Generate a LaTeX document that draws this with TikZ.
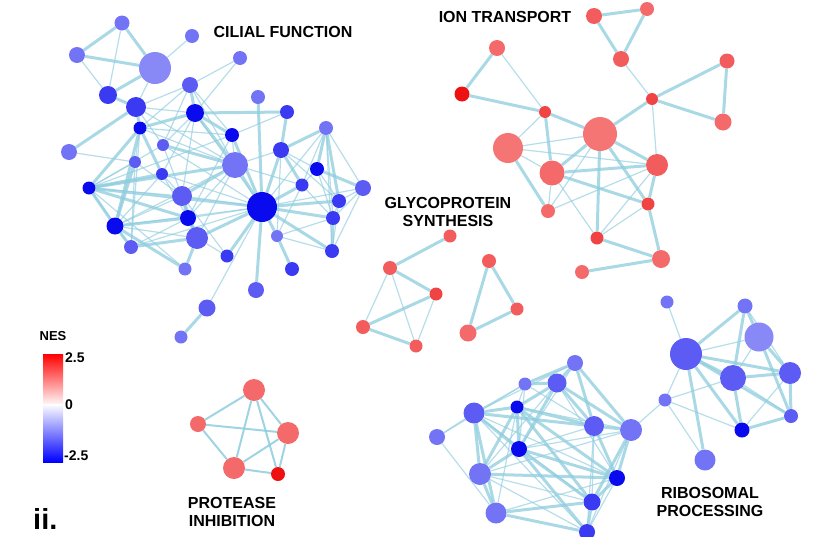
\documentclass[tikz,border=0pt]{standalone}
\usepackage{fontspec}
\setmainfont{Liberation Sans}
\usetikzlibrary{backgrounds}
\definecolor{blueA}{HTML}{0A0AEE}
\definecolor{blueB}{HTML}{3A3AF2}
\definecolor{blueC}{HTML}{5C5CF4}
\definecolor{blueD}{HTML}{7373F5}
\definecolor{blueE}{HTML}{8888F6}
\definecolor{redA}{HTML}{EE1111}
\definecolor{redB}{HTML}{F04444}
\definecolor{redC}{HTML}{F25C5C}
\definecolor{redD}{HTML}{F46A6A}
\definecolor{redE}{HTML}{F57575}
\definecolor{cEdge}{HTML}{8ECCDE}
\tikzset{
  nd/.style={circle, fill=#1, inner sep=0pt},
  lk/.style={draw=cEdge, line width=3pt, opacity=0.75},
  lkthin/.style={draw=cEdge, line width=1.2pt, opacity=0.65},
  lkmid/.style={draw=cEdge, line width=2pt, opacity=0.85},
  lbl/.style={font=\bfseries\fontsize{16}{18.5}\selectfont, align=center, inner sep=0pt},
  legtxt/.style={font=\bfseries\fontsize{14}{16}\selectfont, inner sep=0pt},
}

\begin{document}
\begin{tikzpicture}[x=1pt, y=-1pt]
  \useasboundingbox (0,0) rectangle (830,536);

  % Cilial function cluster
  \foreach \n/\x/\y/\dm/\col in {
      c1/122/23/15/blueD, c2/192/36/14/blueD, c3/77/55/16/blueD,
      c4/155/68/32/blueE, c5/240/58/14/blueD, c6/108/95/18/blueB,
      c7/190/85/16/blueC, c8/136/107/20/blueB, c9/258/97/14/blueD,
      c10/195/113/18/blueA, c11/287/112/14/blueB, c12/140/128/13/blueA,
      c13/232/135/14/blueA, c14/326/128/14/blueD, c15/69/152/16/blueD,
      c16/163/145/12/blueC, c17/281/150/16/blueB, c18/235/165/26/blueD,
      c19/135/162/12/blueC, c20/317/169/14/blueA, c21/162/174/12/blueB,
      c22/302/185/13/blueB, c23/363/188/16/blueC, c24/89/188/13/blueA,
      c25/182/196/20/blueC, c26/339/201/14/blueB, c27/262/207/30/blueA,
      c28/188/218/16/blueA, c29/115/226/17/blueA, c30/333/218/14/blueB,
      c31/277/236/12/blueD, c32/197/238/22/blueC, c33/131/247/14/blueC,
      c34/227/256/13/blueB, c35/332/251/14/blueB, c36/185/269/13/blueD,
      c37/292/269/14/blueB, c38/256/290/16/blueC, c39/207/308/17/blueC,
      c40/181/337/13/blueD}
    \node[nd=\col, minimum size=\dm pt] (\n) at (\x,\y) {};

  % Ion transport cluster
  \foreach \n/\x/\y/\dm/\col in {
      i1/594/16/16/redC, i2/647/9/14/redD, i3/621/59/16/redC,
      i4/497/48/16/redD, i5/462/94/15/redA, i6/545/112/12/redB,
      i7/652/99/12/redB, i8/600/134/34/redE, i9/508/148/30/redE,
      i10/727/61/15/redC, i11/723/122/17/redD, i12/552/173/25/redD,
      i13/657/165/22/redC, i14/548/211/14/redD, i15/648/204/13/redB,
      i16/597/238/13/redB, i17/661/259/18/redD, i18/582/272/14/redD}
    \node[nd=\col, minimum size=\dm pt] (\n) at (\x,\y) {};

  % Glycoprotein synthesis cluster
  \foreach \n/\x/\y/\dm/\col in {
      g1/450/236/13/redC, g2/390/268/14/redC, g3/436/294/13/redB,
      g4/363/327/14/redC, g5/416/346/13/redC, g6/489/261/14/redC,
      g7/517/309/13/redC, g8/468/333/17/redD}
    \node[nd=\col, minimum size=\dm pt] (\n) at (\x,\y) {};

  % Protease inhibition cluster
  \foreach \n/\x/\y/\dm/\col in {
      p1/254/390/22/redD, p2/198/424/16/redD, p3/288/433/22/redD,
      p4/234/468/22/redD, p5/278/474/14/redA}
    \node[nd=\col, minimum size=\dm pt] (\n) at (\x,\y) {};

  % Ribosomal processing clusters
  \foreach \n/\x/\y/\dm/\col in {
      r1/575/363/16/blueD, r2/525/384/13/blueD, r3/557/383/19/blueC,
      r4/474/413/21/blueC, r5/517/407/13/blueA, r6/437/437/16/blueD,
      r7/594/426/20/blueC, r8/631/430/22/blueD, r9/519/449/16/blueA,
      r10/480/474/22/blueD, r11/617/478/16/blueA, r12/496/513/21/blueD,
      r13/592/502/17/blueB, r14/587/532/16/blueB,
      s1/667/302/13/blueD, s2/745/306/15/blueD, s3/759/337/29/blueE,
      s4/686/354/32/blueC, s5/733/378/26/blueC, s6/790/373/22/blueC,
      s7/665/400/13/blueD, s8/791/416/14/blueC, s9/742/430/15/blueA,
      s10/705/460/21/blueD}
    \node[nd=\col, minimum size=\dm pt] (\n) at (\x,\y) {};

  % Links
  \begin{scope}[on background layer]
    \foreach \a/\b in {c1/c3, c1/c4, c3/c4, c4/c6, c6/c8, c8/c15, c8/c12,
        c10/c11, c12/c10, c12/c24, c12/c29, c10/c18, c10/c13, c13/c27,
        c18/c27, c17/c27, c14/c17, c14/c20, c14/c26, c20/c23, c22/c27,
        c26/c27, c24/c29, c24/c18, c24/c27, c25/c28, c27/c38, c27/c31,
        c27/c32, c29/c33, c28/c32, c31/c37, c39/c40, c9/c27, c7/c10,
        c18/c25, c21/c24, c19/c29, c16/c18, c28/c29, c27/c30, c17/c22,
        c11/c17, c12/c21, c24/c28, c25/c32, c32/c33, c29/c36, c32/c36,
        c27/c35, c30/c35, c27/c34,
        i1/i2, i2/i3, i1/i3, i7/i10, i10/i11, i7/i11, i7/i8, i4/i5, i5/i6,
        i6/i8, i6/i12, i9/i14, i8/i12, i8/i13, i8/i16, i8/i15, i12/i13,
        i12/i15, i13/i15, i15/i17, i16/i17, i17/i18,
        g1/g2, g2/g3, g3/g4, g4/g5, g6/g7, g6/g8, g7/g8,
        s2/s4, s2/s5, s2/s3, s3/s6, s3/s8, s4/s5, s4/s6, s4/s8, s4/s9,
        s4/s10, s5/s6, s5/s9, s6/s8, s8/s9,
        r1/r3, r1/r7, r1/r8, r3/r8, r3/r7, r3/r9, r4/r5, r4/r9, r4/r7,
        r5/r7, r5/r11, r5/r9, r7/r8, r7/r11, r8/r11, r8/r13, r9/r10,
        r9/r13, r10/r12, r10/r11, r12/r13, r12/r14, r13/r14, r11/r13,
        r5/r10, r4/r10, r9/r14, r3/r5, r2/r3, r1/r2, r4/r12, r5/r13,
        r9/r11}
      \draw[lk] (\a) -- (\b);
    \foreach \a/\b in {c1/c6, c3/c6, c2/c4, c4/c8, c5/c7, c5/c10, c7/c8,
        c7/c12, c7/c13, c7/c16, c7/c18, c8/c10, c8/c16, c8/c18, c11/c13,
        c12/c19, c12/c33, c12/c18, c12/c13, c15/c19, c10/c16, c10/c21,
        c10/c27, c10/c25, c13/c18, c13/c28, c13/c24, c14/c22, c14/c30,
        c14/c23, c14/c27, c14/c35, c16/c24, c16/c25, c16/c27, c17/c18,
        c17/c20, c17/c26, c17/c31, c18/c28, c18/c32, c18/c22, c18/c29,
        c19/c24, c19/c25, c19/c33, c20/c22, c20/c26, c20/c30, c21/c25,
        c21/c28, c21/c29, c21/c27, c22/c30, c22/c31, c23/c26, c23/c30,
        c23/c27, c23/c35, c24/c33, c24/c25, c24/c36, c25/c29, c25/c27,
        c26/c30, c26/c35, c27/c28, c27/c29, c27/c33, c27/c39, c28/c33,
        c29/c32, c30/c31, c31/c35, c32/c34, c34/c25,
        i3/i7, i4/i6, i6/i9, i9/i8, i9/i13, i8/i14, i12/i14, i12/i16,
        i13/i16, i13/i14, i15/i16, i7/i13, i9/i12,
        g2/g4, g2/g5, g3/g5,
        s1/s4, s3/s4, s3/s5, s4/s7, s5/s7, s5/s8, s6/s9, s7/s9, s7/s10,
        s7/r8, s2/s6,
        r2/r4, r2/r5, r4/r6, r6/r12, r6/r2, r3/r11, r4/r11, r4/r13, r5/r8,
        r5/r12, r7/r9, r7/r13, r7/r14, r8/r9, r8/r14, r10/r13, r10/r14,
        r10/r8, r11/r12, r11/r14, r4/r14, r2/r9, r3/r10, r1/r9, r1/r4,
        r2/r7}
      \draw[lkthin] (\a) -- (\b);
    \foreach \a/\b in {p1/p2, p1/p4, p1/p3, p1/p5, p2/p3, p2/p4, p3/p4,
        p3/p5, p4/p5}
      \draw[lkmid] (\a) -- (\b);
  \end{scope}

  % Cluster labels
  \node[lbl] (lblCilial) at (283,32) {CILIAL FUNCTION};
  \node[lbl] (lblIon) at (505,17) {ION TRANSPORT};
  \node[lbl] (lblGlyco) at (448,212) {GLYCOPROTEIN\\SYNTHESIS};
  \node[lbl] (lblProtease) at (232,512) {PROTEASE\\INHIBITION};
  \node[lbl] (lblRibo) at (710,502) {RIBOSOMAL\\PROCESSING};

  % NES colour scale
  \shade[top color=red, bottom color=white] (43,354) rectangle (63,406);
  \shade[top color=white, bottom color=blue] (43,404) rectangle (63,462);
  \node[legtxt, font=\bfseries\fontsize{13}{15}\selectfont] (legNes) at (53,336) {NES};
  \node[legtxt, anchor=west] (legHigh) at (65,358) {2.5};
  \node[legtxt, anchor=west] (legZero) at (65,405) {0};
  \node[legtxt, anchor=west] (legLow) at (64,456) {-2.5};

  % Panel mark
  \node[anchor=base west, inner sep=0pt, font=\bfseries\fontsize{29}{31}\selectfont]
    (panel) at (33,529) {ii.};
\end{tikzpicture}
\end{document}
